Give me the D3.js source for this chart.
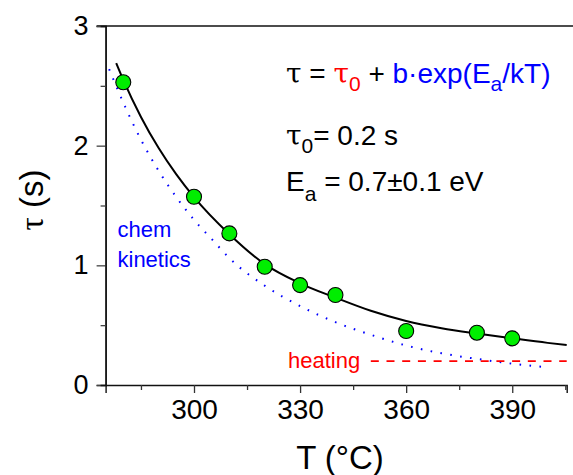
<!DOCTYPE html>
<html>
<head>
<meta charset="utf-8">
<script src="https://cdn.jsdelivr.net/npm/d3@7"></script>
<style>
    body { margin: 0; background: #fff; }
    svg { font-family: "Liberation Sans", Arial, sans-serif; }
</style>
</head>
<body>
<div id="chart"></div>
<script>
// measured points
const pointT = [280, 300, 310, 320, 330, 340, 360, 380, 390];
const pointTau = [2.53, 1.573, 1.267, 0.988, 0.835, 0.752, 0.451, 0.437, 0.39];

// fit curve
const fitT = [278, 280, 285, 290, 295, 300, 310, 320, 330, 340, 350, 360, 370, 380, 390, 400, 405.4];
const fitTau = [2.69, 2.55, 2.24, 1.98, 1.76, 1.57, 1.26, 1.01, 0.85, 0.73, 0.62, 0.535, 0.475, 0.43, 0.39, 0.352, 0.334];

// chem kinetics (dotted)
const chemT = [276, 280, 285, 290, 295, 300, 305, 310, 320, 330, 340, 350, 360, 370, 380, 390, 400];
const chemTau = [2.64, 2.36, 2.05, 1.79, 1.57, 1.38, 1.22, 1.06, 0.83, 0.66, 0.525, 0.42, 0.33, 0.265, 0.218, 0.178, 0.148];

// heating level
const heatT = [350, 405.4];
const heatTau = [0.2, 0.2];

const xMajor = [300, 330, 360, 390];
const xMinor = [285, 315, 345, 375, 405];
const yMajor = [0, 1, 2, 3];
const yMinor = [0.5, 1.5, 2.5];

const width = 573;
const height = 475;

const svg = d3.select('#chart').append('svg')
    .attr('width', width)
    .attr('height', height);

const x = d3.scaleLinear().domain([275, 405.4]).range([105.6, 566.7]);
const y = d3.scaleLinear().domain([0, 3]).range([385, 26]);

// top frame line
svg.append('line')
    .attr('x1', x(275) - 9).attr('x2', width)
    .attr('y1', y(3)).attr('y2', y(3))
    .attr('stroke', '#111').attr('stroke-width', 1.4);

// bottom axis
const xAxis = svg.append('g').attr('transform', `translate(0,${y(0)})`);
xAxis.call(d3.axisBottom(x).tickValues(xMajor).tickSize(8).tickPadding(6).tickFormat(d3.format('d')));
xAxis.append('g').call(d3.axisBottom(x).tickValues(xMinor).tickSize(5).tickFormat(''));
xAxis.selectAll('.domain').attr('stroke', '#111').attr('stroke-width', 1.4);
xAxis.selectAll('.tick line').attr('stroke', '#333').attr('stroke-width', 1.3);
xAxis.selectAll('text')
    .attr('font-family', '"Liberation Sans", Arial, sans-serif')
    .attr('font-size', 28).attr('fill', '#000');
xAxis.selectAll('.domain').filter((d, i) => i > 0).remove();

// left axis
const yAxis = svg.append('g').attr('transform', `translate(${x(275)},0)`);
yAxis.call(d3.axisLeft(y).tickValues(yMajor).tickSize(9).tickPadding(8).tickFormat(d3.format('d')));
yAxis.append('g').call(d3.axisLeft(y).tickValues(yMinor).tickSize(5).tickFormat(''));
yAxis.selectAll('.domain').attr('stroke', '#111').attr('stroke-width', 1.4);
yAxis.selectAll('.tick line').attr('stroke', '#444').attr('stroke-width', 1.3);
yAxis.selectAll('text')
    .attr('font-family', '"Liberation Sans", Arial, sans-serif')
    .attr('font-size', 27).attr('fill', '#000');

// axis titles
svg.append('text')
    .attr('x', 340).attr('y', 469)
    .attr('text-anchor', 'middle')
    .attr('font-size', 33)
    .text('T (°C)');

const yTitle = svg.append('text')
    .attr('transform', 'translate(43,200) rotate(-90)')
    .attr('text-anchor', 'middle')
    .attr('font-size', 33);
yTitle.append('tspan').attr('font-family', '"Liberation Serif", serif').text('τ');
yTitle.append('tspan').text(' (s)');

const line = d3.line()
    .x(d => x(d[0]))
    .y(d => y(d[1]))
    .curve(d3.curveMonotoneX);

// chem kinetics dotted curve
svg.append('path')
    .datum(chemT.map((t, i) => [t, chemTau[i]]))
    .attr('d', line)
    .attr('fill', 'none')
    .attr('stroke', '#0000ff')
    .attr('stroke-width', 2)
    .attr('stroke-dasharray', '1.6,8.4');

// heating dashed line
svg.append('path')
    .datum(heatT.map((t, i) => [t, heatTau[i]]))
    .attr('d', line)
    .attr('fill', 'none')
    .attr('stroke', '#ff0000')
    .attr('stroke-width', 1.8)
    .attr('stroke-dasharray', '8,7.7');

// fit curve
svg.append('path')
    .datum(fitT.map((t, i) => [t, fitTau[i]]))
    .attr('d', line)
    .attr('fill', 'none')
    .attr('stroke', '#000')
    .attr('stroke-width', 2);

// data points
svg.selectAll('.pt')
    .data(pointT.map((t, i) => [t, pointTau[i]]))
    .enter().append('circle')
    .attr('class', 'pt')
    .attr('cx', d => x(d[0]))
    .attr('cy', d => y(d[1]))
    .attr('r', 7.5)
    .attr('fill', '#00ee00')
    .attr('stroke', '#000')
    .attr('stroke-width', 1.1);

// labels
svg.append('text').attr('x', 288).attr('y', 368)
    .attr('font-size', 22).attr('fill', '#ff0000').text('heating');
svg.append('text').attr('x', 117.5).attr('y', 237)
    .attr('font-size', 22).attr('fill', '#0000ff').text('chem');
svg.append('text').attr('x', 117.5).attr('y', 267)
    .attr('font-size', 22).attr('fill', '#0000ff').text('kinetics');

// formula lines
const tauFont = '"DejaVu Serif", serif';

const f1 = svg.append('text').attr('x', 286).attr('y', 82.5)
    .attr('font-size', 28).style('white-space', 'pre');
f1.append('tspan').attr('font-family', tauFont).text('τ');
f1.append('tspan').text(' = ');
f1.append('tspan').attr('font-family', tauFont).attr('fill', '#ff0000').text('τ');
f1.append('tspan').attr('fill', '#ff0000').attr('font-size', 21).attr('dy', 8).text('0');
f1.append('tspan').attr('dy', -8).text(' + ');
f1.append('tspan').attr('fill', '#0000ff').text('b·exp(E');
f1.append('tspan').attr('fill', '#0000ff').attr('font-size', 21).attr('dy', 8).text('a');
f1.append('tspan').attr('fill', '#0000ff').attr('dy', -8).text('/kT)');

const f2 = svg.append('text').attr('x', 286).attr('y', 145)
    .attr('font-size', 28).style('white-space', 'pre');
f2.append('tspan').attr('font-family', tauFont).text('τ');
f2.append('tspan').attr('font-size', 21).attr('dy', 8).text('0');
f2.append('tspan').attr('dy', -8).text('= 0.2 s');

const f3 = svg.append('text').attr('x', 286).attr('y', 191)
    .attr('font-size', 28).style('white-space', 'pre');
f3.append('tspan').text('E');
f3.append('tspan').attr('font-size', 21).attr('dy', 10).text('a');
f3.append('tspan').attr('dy', -10).text(' = 0.7±0.1 eV');
</script>
</body>
</html>
